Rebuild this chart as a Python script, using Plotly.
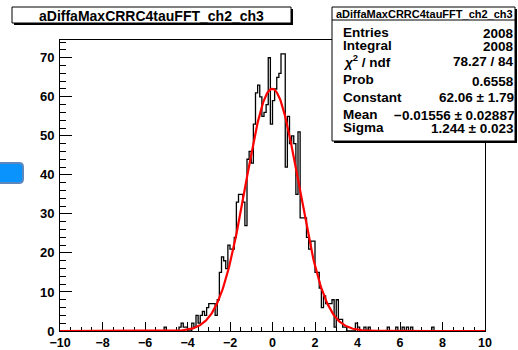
import numpy as np
import plotly.graph_objects as go

# ---------------- data ----------------
hist_name = "aDiffaMaxCRRC4tauFFT_ch2_ch3"
n_bins = 200
x_min, x_max = -10.0, 10.0
first_filled_low_edge = -5.1          # low edge of the first listed bin
counts_listed = [
    1, 0, 0, 0, 0, 0, 0, 1, 2, 1,
    1, 0, 0, 2, 1, 4, 2, 4, 5, 4,
    6, 7, 7, 7, 4, 8, 15, 19, 18, 16,
    22, 21, 21, 24, 33, 35, 35, 33, 27, 44,
    46, 43, 53, 61, 63, 60, 55, 56, 58, 70,
    53, 59, 62, 65, 66, 71, 71, 42, 55, 48,
    50, 48, 35, 51, 29, 29, 29, 24, 21, 23,
    23, 15, 15, 11, 6, 9, 7, 7, 7, 8,
    1, 8, 3, 3, 1, 1, 0, 0, 0, 0,
    2, 1, 0, 0, 1, 0, 1, 0, 0, 0,
    0, 0, 0, 0, 0, 1, 0, 0, 0, 1,
    0, 0, 1, 0, 1, 0, 1, 0, 0, 0,
    0, 0, 0, 0, 0, 0, 1,
]
fit_constant = 62.06
fit_mean = -0.01556
fit_sigma = 1.244
x_tick_vals = [-10, -8, -6, -4, -2, 0, 2, 4, 6, 8, 10]
y_tick_vals = [0, 10, 20, 30, 40, 50, 60, 70]
stats_labels = ["Entries", "Integral", "<i>χ</i><sup>2</sup> / ndf", "Prob",
                "Constant", "Mean", "Sigma"]
stats_values = ["2008", "2008", "78.27 / 84", "0.6558",
                "62.06 ± 1.79", "−0.01556 ± 0.02887", "1.244 ± 0.023"]

# ---------------- build histogram ----------------
edges = np.linspace(x_min, x_max, n_bins + 1)
counts = np.zeros(n_bins)
start = int(round((first_filled_low_edge - x_min) / ((x_max - x_min) / n_bins)))
counts[start:start + len(counts_listed)] = counts_listed
step_y = np.append(counts, counts[-1])

xf = np.linspace(x_min, x_max, 600)
yf = fit_constant * np.exp(-0.5 * ((xf - fit_mean) / fit_sigma) ** 2)

W, H = 518, 350
L, R, T, B = 60, 485, 40, 331


def px(x):
    return (x - L) / (R - L)


def py(y):
    return (B - y) / (B - T)


FONT = "Liberation Sans, Arial, Helvetica, sans-serif"

fig = go.Figure()
fig.add_trace(go.Scatter(x=edges, y=step_y, mode="lines", line_shape="hv",
                         line=dict(color="black", width=1.3),
                         hoverinfo="skip", showlegend=False))
fig.add_trace(go.Scatter(x=xf, y=yf, mode="lines",
                         line=dict(color="#ff0000", width=2.2),
                         hoverinfo="skip", showlegend=False))

ymax = max(counts) * 1.05

fig.update_layout(
    width=W, height=H,
    margin=dict(l=L, r=W - R, t=T, b=H - B, pad=0, autoexpand=False),
    paper_bgcolor="white", plot_bgcolor="white",
    showlegend=False,
    xaxis=dict(range=[x_min, x_max], showgrid=False, zeroline=False,
               automargin=False,
               showline=True, linecolor="black", linewidth=1, mirror=True,
               ticks="inside", ticklen=9, tickwidth=1, tickcolor="black",
               tickvals=x_tick_vals, ticklabelstandoff=0,
               minor=dict(ticks="inside", ticklen=4.5, dtick=0.5,
                          tickcolor="black", tickwidth=1),
               tickfont=dict(family=FONT, size=12.5, color="black", weight="bold"),
               layer="below traces"),
    yaxis=dict(range=[0, ymax], showgrid=False, zeroline=False,
               automargin=False,
               showline=True, linecolor="black", linewidth=1, mirror=True,
               ticks="inside", ticklen=12, tickwidth=1, tickcolor="black",
               tickvals=y_tick_vals, ticklabelstandoff=2,
               minor=dict(ticks="inside", ticklen=6, dtick=2,
                          tickcolor="black", tickwidth=1),
               tickfont=dict(family=FONT, size=13, color="black", weight="bold"),
               layer="below traces"),
)

shapes = []
annotations = []


def box(x0, y0, x1, y1, shadow=2):
    shapes.append(dict(type="rect", xref="paper", yref="paper",
                       x0=px(x0 + shadow), x1=px(x1 + shadow),
                       y0=py(y1 + shadow), y1=py(y0 + shadow),
                       fillcolor="black", line=dict(width=0), layer="above"))
    shapes.append(dict(type="rect", xref="paper", yref="paper",
                       x0=px(x0), x1=px(x1), y0=py(y1), y1=py(y0),
                       fillcolor="white", line=dict(color="black", width=1),
                       layer="above"))


# title box
box(12, 7, 291, 23)
annotations.append(dict(xref="paper", yref="paper", x=px(151.5), y=py(15.5),
                        text=hist_name, showarrow=False, xanchor="center",
                        yanchor="middle", borderpad=0,
                        font=dict(family=FONT, size=14, color="black", weight="bold")))

# stats box
box(332, 7, 515, 141)
shapes.append(dict(type="line", xref="paper", yref="paper",
                   x0=px(332), x1=px(515), y0=py(20), y1=py(20),
                   line=dict(color="black", width=1), layer="above"))
annotations.append(dict(xref="paper", yref="paper", x=px(424), y=py(13.5),
                        text=hist_name, showarrow=False, xanchor="center",
                        yanchor="middle", borderpad=0,
                        font=dict(family=FONT, size=11, color="black", weight="bold")))
row_y = [32, 45, 61, 80, 97, 115, 127]
for lab, val, yy in zip(stats_labels, stats_values, row_y):
    annotations.append(dict(xref="paper", yref="paper", x=px(342), y=py(yy),
                            text=lab, showarrow=False, xanchor="left",
                            yanchor="middle", borderpad=0,
                            font=dict(family=FONT, size=13.5, color="black",
                                      weight="bold")))
    annotations.append(dict(xref="paper", yref="paper", x=px(515), y=py(yy + 1),
                            text=val, showarrow=False, xanchor="right",
                            yanchor="middle", borderpad=0,
                            font=dict(family=FONT, size=13.5, color="black",
                                      weight="bold")))

# little blue button at the left edge of the screenshot
bx0, bx1, by0, by1, r = -4, 23, 163, 183, 4
path = (f"M {px(bx0)},{py(by0)} L {px(bx1 - r)},{py(by0)} "
        f"Q {px(bx1)},{py(by0)} {px(bx1)},{py(by0 + r)} "
        f"L {px(bx1)},{py(by1 - r)} Q {px(bx1)},{py(by1)} {px(bx1 - r)},{py(by1)} "
        f"L {px(bx0)},{py(by1)} Z")
shapes.append(dict(type="path", xref="paper", yref="paper", path=path,
                   fillcolor="#0a93fc", line=dict(color="#5d88bd", width=2),
                   layer="above"))

fig.update_layout(shapes=shapes, annotations=annotations)
fig.write_html("out.html")
